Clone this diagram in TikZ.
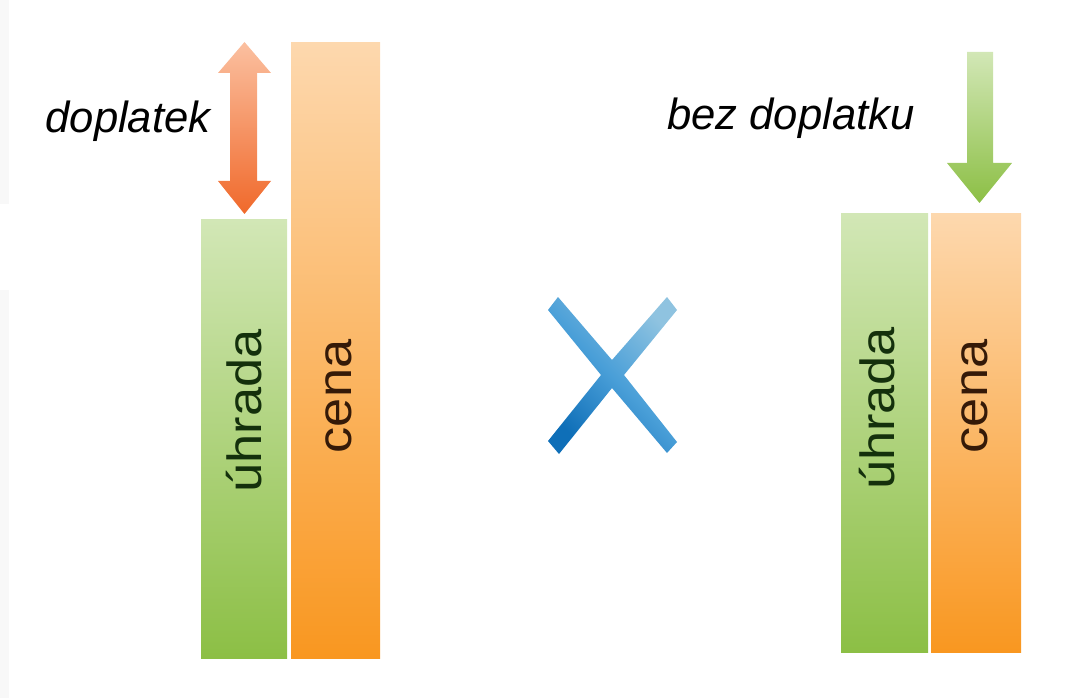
\documentclass[tikz,border=0pt]{standalone}
\usepackage{fontspec}
\setmainfont{Liberation Sans}
\definecolor{gtop}{HTML}{D2E7B6}
\definecolor{gbot}{HTML}{8CBF45}
\definecolor{otop}{HTML}{FDD8AE}
\definecolor{obot}{HTML}{F99720}
\definecolor{atop}{HTML}{FBC0A0}
\definecolor{abot}{HTML}{F0692B}
\definecolor{xlo}{HTML}{0F6FB8}
\definecolor{xhi}{HTML}{8FC3E0}
\definecolor{xmid}{HTML}{4A9FD8}
\definecolor{gtext}{HTML}{14300C}
\definecolor{otext}{HTML}{351A08}
\definecolor{strip}{HTML}{F8F8F8}
\tikzset{
  greenfill/.style={top color=gtop,bottom color=gbot,draw=none},
  orangefill/.style={top color=otop,bottom color=obot,draw=none},
  redfill/.style={top color=atop,bottom color=abot,draw=none},
  barlabel/.style={rotate=90,anchor=base,font=\fontsize{48}{48}\selectfont,xscale=1.09,inner sep=0pt},
  toplabel/.style={anchor=base,font=\fontsize{43.6}{44}\selectfont\itshape,text=black,inner sep=0pt}
}
\begin{document}
\begin{tikzpicture}[x=1pt,y=-1pt]
\useasboundingbox (0,0) rectangle (1080,698);
\fill[strip] (0,0) rectangle (9,204);
\fill[strip] (0,290) rectangle (9,698);
% left pair
\node[greenfill,minimum width=86pt,minimum height=439pt,inner sep=0pt,anchor=north west] (lgreen) at (201,219) {};
\node[orangefill,minimum width=89pt,minimum height=616pt,inner sep=0pt,anchor=north west] (lorange) at (291,42) {};
% right pair
\node[greenfill,minimum width=87pt,minimum height=439pt,inner sep=0pt,anchor=north west] (rgreen) at (841,213) {};
\node[orangefill,minimum width=90pt,minimum height=439pt,inner sep=0pt,anchor=north west] (rorange) at (931,213) {};
% bar labels
\node[barlabel,text=gtext] (t1) at (261.5,411) {úhrada};
\node[barlabel,text=otext] (t2) at (351,396.5) {cena};
\node[barlabel,text=gtext] (t3) at (894.5,408.5) {úhrada};
\node[barlabel,text=otext] (t4) at (987,396.5) {cena};
% top labels
\node[toplabel] (t5) at (128,133) {doplatek};
\node[toplabel] (t6) at (791,130) {bez doplatku};
% double arrow
\path[redfill] (244.5,42) -- (271,73) -- (257,73) -- (257,181) -- (271,181) -- (244.5,214)
  -- (218,181) -- (230,181) -- (230,73) -- (218,73) -- cycle;
% single arrow
\path[greenfill] (967,52) -- (993,52) -- (993,163) -- (1012,163) -- (979.5,203)
  -- (947,163) -- (967,163) -- cycle;
% cross
\path[left color=xlo,right color=xhi,middle color=xmid,shading angle=135,draw=none]
  (558,297) -- (612,360) -- (667,297) -- (677,310) -- (624,375) -- (677,442) -- (667,453)
  -- (612,388) -- (559,454) -- (548,441) -- (601,375) -- (548,310) -- cycle;
\end{tikzpicture}
\end{document}
